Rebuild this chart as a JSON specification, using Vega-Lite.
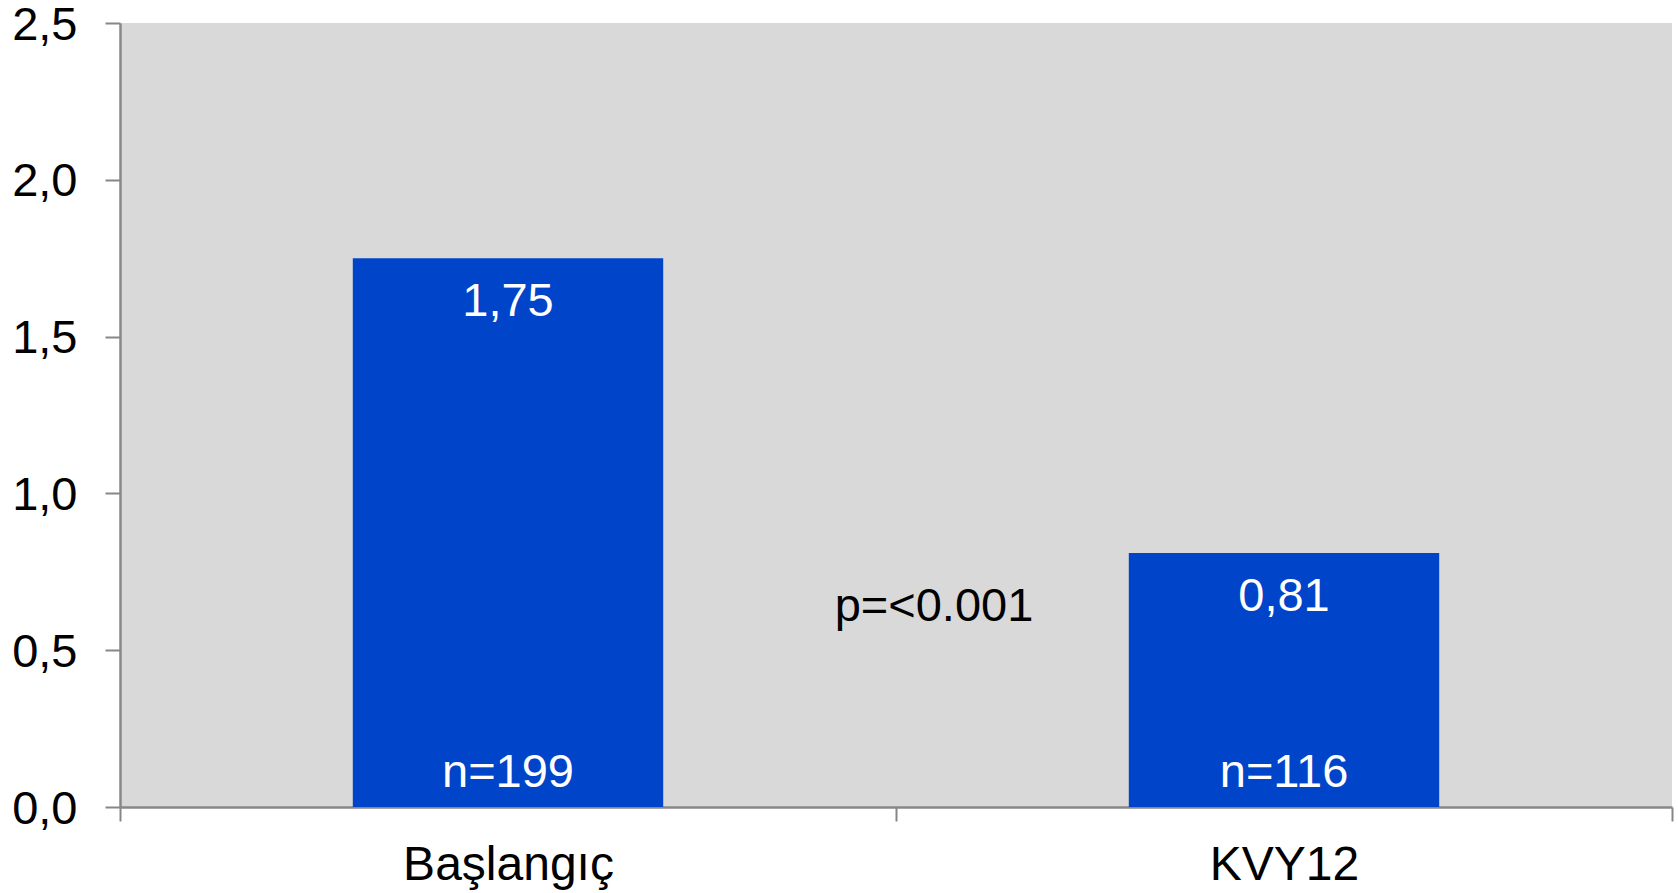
{
  "$schema": "https://vega.github.io/schema/vega-lite/v6.json",
  "width": 1552,
  "height": 784,
  "autosize": {"type": "none"},
  "padding": {"left": 120, "top": 23, "right": 6, "bottom": 86},
  "background": "white",
  "config": {
    "view": {"fill": "#d9d9d9", "stroke": null},
    "font": "Liberation Sans"
  },
  "data": {
    "values": [
      {"group": "Başlangıç", "value": 1.75, "n": 199},
      {"group": "KVY12", "value": 0.81, "n": 116}
    ]
  },
  "transform": [
    {"calculate": "replace(format(datum.value, '.2f'), '.', ',')", "as": "label"},
    {"calculate": "'n=' + datum.n", "as": "nlabel"}
  ],
  "encoding": {
    "x": {
      "field": "group",
      "type": "nominal",
      "sort": null,
      "scale": {"paddingInner": 0, "paddingOuter": 0},
      "axis": {
        "title": null,
        "labelAngle": 0,
        "labelFontSize": 48,
        "labelColor": "#000000",
        "labelPadding": 20,
        "labelLimit": 0,
        "tickBand": "extent",
        "tickSize": 14,
        "tickWidth": 2,
        "tickColor": "#878787",
        "domainColor": "#878787",
        "domainWidth": 2.5,
        "grid": false
      }
    }
  },
  "layer": [
    {
      "mark": {"type": "bar", "color": "#0044C9", "width": {"band": 0.4}},
      "encoding": {
        "y": {
          "field": "value",
          "type": "quantitative",
          "scale": {"domain": [0, 2.5], "nice": false},
          "axis": {
            "title": null,
            "values": [0, 0.5, 1, 1.5, 2, 2.5],
            "labelExpr": "replace(format(datum.value, '.1f'), '.', ',')",
            "labelFontSize": 47,
            "labelColor": "#000000",
            "labelPadding": 28,
            "labelOffset": 2,
            "labelLimit": 0,
            "tickSize": 15,
            "tickWidth": 2,
            "tickColor": "#878787",
            "domainColor": "#878787",
            "domainWidth": 2.5,
            "grid": false
          }
        }
      }
    },
    {
      "mark": {"type": "text", "color": "white", "fontSize": 47, "baseline": "middle", "dy": 44},
      "encoding": {
        "y": {"field": "value", "type": "quantitative"},
        "text": {"field": "label"}
      }
    },
    {
      "mark": {"type": "text", "color": "white", "fontSize": 47, "baseline": "alphabetic", "dy": -20},
      "encoding": {
        "y": {"datum": 0, "type": "quantitative"},
        "text": {"field": "nlabel"}
      }
    },
    {
      "data": {"values": [{"group": "KVY12", "ptext": "p=<0.001", "py": 0.637}]},
      "mark": {"type": "text", "color": "black", "fontSize": 47, "baseline": "middle"},
      "encoding": {
        "x": {"field": "group", "type": "nominal", "bandPosition": 0.049},
        "y": {"field": "py", "type": "quantitative"},
        "text": {"field": "ptext"}
      }
    }
  ]
}
